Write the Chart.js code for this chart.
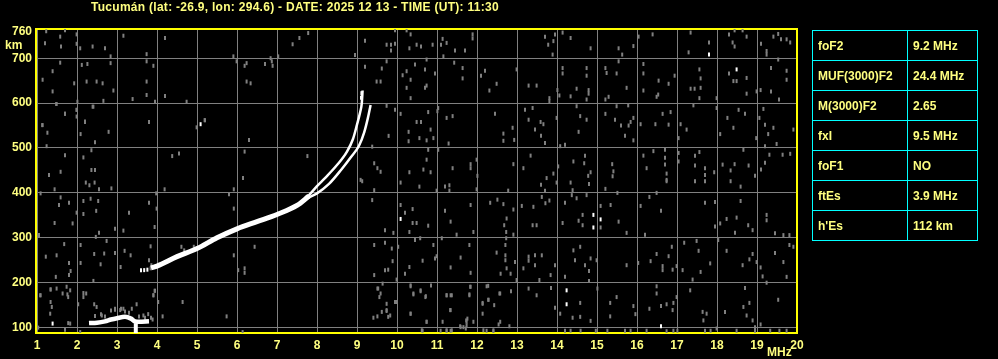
<!DOCTYPE html>
<html>
<head>
<meta charset="utf-8">
<title>Ionogram Tucumán</title>
<script src="https://cdn.jsdelivr.net/npm/chart.js@4.4.1/dist/chart.umd.min.js"></script>
<style>
  body { margin: 0; background: #000; }
  #wrap { position: relative; width: 998px; height: 359px; overflow: hidden; background: #000; }
  #chart-box { position: absolute; left: 0; top: 0; width: 998px; height: 359px; }
  .lbl { position: absolute; color: #ffff80; font: bold 11px "Liberation Sans", Arial, sans-serif; white-space: nowrap; }
  #title { left: 91px; top: 0px; font-size: 12px; letter-spacing: 0.28px; }
  #km { left: 5px; top: 38px; font-size: 12px; }
  #mhz { left: 767px; top: 345px; font-size: 12px; }
  #params { position: absolute; left: 812px; top: 30px; border-collapse: collapse; }
  #params td { border: 1px solid #00ffff; height: 29px; padding: 0 0 0 5px; color: #ffff80;
    font: bold 12px "Liberation Sans", Arial, sans-serif; white-space: nowrap; }
  #params td.k { width: 89px; }
  #params td.v { width: 64px; }
</style>
</head>
<body>
<div id="wrap">
  <div id="chart-box"><canvas id="iono-chart"></canvas></div>
  <div class="lbl" id="title">Tucumán (lat: -26.9, lon: 294.6) - DATE: 2025 12 13 - TIME (UT): 11:30</div>
  <div class="lbl" id="km">km</div>
  <div class="lbl" id="mhz">MHz</div>
  <table id="params"></table>
</div>
<script>
// Scaled parameters (right table)
const paramNames = ['foF2', 'MUF(3000)F2', 'M(3000)F2', 'fxI', 'foF1', 'ftEs', "h'Es"];
const paramValues = ['9.2 MHz', '24.4 MHz', '2.65', '9.5 MHz', 'NO', '3.9 MHz', '112 km'];

// Axes
const freqMin = 1, freqMax = 20;
const heightMin = 88, heightMax = 765;
const heightTicks = [100, 200, 300, 400, 500, 600, 700, 760];

// F-layer traces [MHz, km]
const oTraceLow = [[3.85,233],[4.0,237],[4.5,258],[5.0,276],[5.5,300],[6.0,320],[6.5,336],[7.0,352],[7.5,372],[7.8,393]];
const oTraceHigh = [[7.6,378],[7.8,395],[8.0,415],[8.2,433],[8.5,462],[8.75,492],[8.9,520],[9.0,552],[9.08,580],[9.12,600],[9.14,628]];
const xTrace = [[7.6,378],[7.8,390],[8.0,399],[8.3,420],[8.6,451],[8.85,480],[9.05,505],[9.18,535],[9.27,566],[9.34,596]];

// Sporadic E trace
const esTrace = [[2.3,110],[2.5,111],[2.7,114],[2.85,118],[3.0,121],[3.2,124],[3.35,120],[3.45,114],[3.55,113],[3.8,114]];
const esSpike = [[3.47,88],[3.47,110]];

// Bright echoes
const whiteEchoes = [[3.6,228],[3.68,228],[3.76,229],[17.80,708],[18.49,675],[10.09,342],[14.91,351],[15.09,341],[14.91,323],
  [14.24,183],[14.24,152],[16.60,103],[5.09,553],[1.39,109],[9.1,612],[9.11,622]];

// Background noise echoes
const noiseEchoes = [
  [9.95,762],[10.24,762],[10.34,753],[9.74,730],[9.85,730],[9.95,732],[9.85,717],[10.31,722],[10.49,730],[10.60,726],
  [10.89,730],[11.10,730],[11.24,734],[11.14,743],[11.45,717],[11.70,717],[11.89,753],[11.89,744],[11.16,704],[10.74,697],
  [9.74,693],[9.62,677],[10.45,686],[10.24,671],[10.14,662],[10.34,652],[10.24,634],[10.70,634],[10.74,639],[10.34,611],
  [10.95,666],[10.70,675],[11.43,690],[11.64,678],[11.64,655],[12.20,672],[12.10,661],[12.49,643],[12.31,628],[12.99,675],
  [13.29,639],[13.49,639],[13.70,748],[13.91,738],[13.78,730],[13.95,753],[14.14,757],[14.34,745],[13.89,708],[14.14,678],
  [14.14,666],[14.74,678],[14.74,661],[14.49,632],[14.79,629],[14.79,621],[14.01,629],[14.06,617],[13.81,611],[13.81,604],
  [14.34,615],[14.74,608],[14.84,722],[15.21,678],[15.54,722],[15.63,708],[15.54,693],[15.74,634],[15.29,614],[15.21,608],
  [15.24,667],[15.49,666],[15.91,727],[16.04,748],[16.39,753],[16.16,687],[16.16,666],[16.54,650],[16.79,643],[16.94,661],
  [16.16,628],[16.53,619],[16.49,614],[17.34,757],[17.80,735],[17.29,713],[17.56,675],[17.59,655],[17.59,634],[17.34,632],
  [17.44,632],[17.56,611],[17.99,611],[18.30,753],[18.44,762],[18.64,762],[18.74,748],[18.39,735],[18.44,726],[18.30,666],
  [18.41,649],[18.49,649],[18.74,656],[18.74,621],[18.99,626],[19.09,629],[19.24,716],[19.24,708],[19.41,748],[19.53,754],
  [19.60,742],[19.74,742],[19.83,735],[19.10,732],[19.35,678],[19.74,672],[19.74,652],[19.35,626],[19.55,608],[19.53,697],
  [9.74,594],[9.95,585],[10.09,576],[10.78,580],[11.03,589],[11.01,582],[11.24,567],[11.39,571],[10.49,558],[10.60,558],
  [10.84,541],[10.29,536],[9.79,527],[10.56,522],[10.74,517],[10.91,522],[10.29,515],[11.29,510],[12.45,576],[12.66,532],
  [12.89,545],[12.66,516],[12.93,518],[13.20,585],[13.39,589],[13.29,563],[13.59,558],[13.66,553],[13.45,541],[13.60,527],
  [13.70,511],[13.99,567],[14.08,504],[14.20,507],[14.49,593],[14.58,571],[14.74,563],[14.54,536],[15.21,576],[15.49,593],
  [15.78,595],[15.91,567],[15.45,563],[15.60,550],[15.79,550],[15.84,558],[15.70,527],[15.91,517],[16.09,553],[16.46,553],
  [16.79,552],[16.64,576],[16.84,580],[17.09,553],[17.24,541],[17.41,595],[17.04,522],[17.99,589],[18.08,531],[18.26,567],
  [18.41,545],[18.54,585],[18.70,576],[18.98,522],[19.06,567],[19.16,587],[19.20,552],[19.41,545],[19.28,531],[19.91,541],
  [19.49,509],[19.20,504],[10.78,496],[11.03,496],[10.74,474],[10.66,452],[10.31,446],[10.84,446],[11.39,455],[11.84,464],
  [11.84,455],[11.99,474],[12.01,438],[12.91,464],[13.16,455],[13.34,483],[13.74,433],[13.91,443],[14.03,459],[14.41,470],
  [14.70,483],[14.78,438],[14.68,466],[14.84,446],[15.38,464],[15.41,448],[15.39,437],[16.16,483],[16.24,455],[16.41,493],
  [16.70,496],[16.70,478],[16.70,463],[16.74,443],[16.74,429],[17.04,489],[17.04,470],[17.45,483],[17.56,491],[17.45,461],
  [17.70,455],[17.70,440],[17.93,446],[18.14,463],[18.34,450],[18.44,464],[18.66,496],[18.79,461],[18.95,438],[19.10,452],
  [19.20,467],[19.31,485],[19.64,485],[19.83,487],
  [10.09,423],[10.56,414],[11.20,414],[11.31,417],[11.31,405],[10.99,405],[11.99,408],[12.78,405],[13.60,418],[13.70,405],
  [13.99,423],[14.34,423],[14.39,406],[14.80,420],[15.21,409],[15.51,400],[16.49,400],[16.74,426],[17.45,426],[17.70,426],
  [18.34,426],[18.59,414],[10.09,373],[10.20,356],[10.39,364],[10.39,333],[10.49,333],[10.78,327],[10.31,313],[9.91,311],
  [9.70,317],[10.58,299],[11.20,360],[11.34,336],[11.49,307],[11.84,373],[11.91,313],[12.33,378],[12.51,385],[12.66,375],
  [12.91,363],[12.74,343],[12.68,328],[12.73,313],[12.73,299],[12.91,307],[13.12,371],[13.41,369],[13.39,328],[13.49,328],
  [13.62,391],[13.71,377],[13.81,383],[14.14,333],[14.20,378],[14.37,395],[14.49,388],[14.74,395],[14.64,351],[14.54,338],
  [14.64,328],[15.09,371],[15.34,373],[15.09,323],[15.54,336],[15.74,311],[16.09,371],[16.31,391],[16.60,360],[16.20,307],
  [17.70,378],[17.95,380],[18.59,382],[18.49,345],[18.24,342],[18.08,332],[17.95,325],[18.45,311],[18.78,328],[18.89,317],
  [19.24,351],[19.24,339],[19.45,310],[19.66,306],[19.81,306],
  [9.70,289],[9.87,276],[10.03,280],[9.89,248],[9.70,228],[9.78,229],[9.99,207],[10.20,220],[10.31,235],[10.45,295],
  [10.64,249],[10.91,284],[10.95,254],[10.99,259],[11.34,234],[11.59,256],[11.81,284],[11.84,222],[11.12,299],[12.49,267],
  [12.59,220],[12.71,284],[12.71,261],[12.71,250],[12.74,232],[12.84,220],[12.95,246],[12.99,206],[13.16,232],[13.29,258],
  [13.29,249],[13.45,261],[13.62,261],[13.45,239],[13.56,206],[13.84,217],[13.95,239],[14.20,213],[14.41,272],[14.45,250],
  [14.58,280],[14.70,239],[14.80,226],[14.84,254],[14.80,204],[14.99,250],[15.74,239],[16.03,244],[16.34,248],[16.49,264],
  [16.64,237],[16.64,228],[16.79,259],[16.87,280],[16.99,237],[16.89,229],[17.14,228],[17.18,289],[17.39,207],[17.49,293],
  [17.54,271],[17.59,224],[17.83,243],[18.03,295],[18.24,271],[18.64,239],[18.81,252],[18.89,264],[18.99,246],[19.09,234],
  [19.14,214],[19.45,266],[19.66,246],[19.74,213],[19.81,284],[19.91,280],[19.24,200],
  [10.34,192],[10.59,181],[10.71,168],[10.41,174],[9.98,157],[9.74,137],[9.78,124],[10.34,131],[10.74,113],[11.24,172],
  [11.34,172],[11.34,139],[11.58,103],[11.74,113],[11.76,120],[11.84,191],[11.81,174],[12.14,155],[12.24,192],[12.29,162],
  [12.43,150],[12.56,176],[12.54,107],[12.81,103],[12.85,181],[13.29,187],[13.49,172],[13.85,188],[13.95,144],[14.08,131],
  [14.39,122],[14.58,155],[14.58,124],[14.84,115],[15.01,187],[15.33,155],[15.49,168],[15.33,125],[15.91,148],[15.96,130],
  [16.31,142],[16.49,192],[16.49,176],[16.60,148],[16.74,152],[16.91,155],[16.89,139],[16.99,168],[17.33,183],[17.64,135],
  [17.74,131],[17.66,116],[18.20,135],[18.66,146],[18.81,155],[18.74,127],[18.89,116],[18.95,101],[19.09,107],[19.53,162],
  [18.70,188],
  [10.64,93],[11.09,93],[11.24,93],[11.34,93],[11.59,101],[11.72,98],[12.24,93],[12.41,92],[14.20,93],[14.34,93],
  [14.59,93],[14.97,93],[15.26,93],[15.70,93],[15.84,93],[16.24,93],[16.74,92],[16.91,93],[17.01,93],[17.70,93],
  [17.84,93],[17.99,98],[18.49,93],[18.95,93],[19.33,93],[19.56,93],[19.74,93],
  [1.49,598],[1.99,585],[2.41,592],[2.66,605],[1.99,570],[1.13,551],[1.26,534],[1.70,576],[2.20,558],[2.09,531],
  [2.79,536],[2.45,513],[1.24,504],[1.70,484],[2.16,479],[2.36,495],[1.30,440],[1.59,447],[2.36,451],[2.45,451],
  [2.22,423],[2.31,417],[2.44,423],[2.55,408],[2.86,410],[1.44,408],[1.09,399],[1.59,390],[1.55,373],[1.80,378],
  [2.16,382],[2.34,387],[2.53,382],[1.99,356],[2.16,353],[2.48,360],[1.44,333],[1.89,332],[2.55,311],[2.47,302],
  [1.05,306],[2.95,320],[2.74,293],[3.16,316],[3.30,356],[3.80,378],[3.80,558],[3.98,399],[4.19,408],[3.99,365],
  [3.94,324],[3.84,281],[3.80,250],[1.68,286],[2.09,284],[1.22,258],[1.49,261],[1.80,244],[2.09,244],[2.43,264],
  [2.59,241],[2.68,265],[2.95,266],[3.19,271],[3.34,261],[3.09,235],[1.80,217],[1.84,226],[1.47,213],[1.34,185],
  [1.09,172],[1.76,174],[2.16,177],[2.41,204],[3.91,172],[3.94,182],[4.38,482],[4.55,488],[4.99,546],[5.19,562],
  [5.92,408],[5.80,397],[5.92,365],[6.19,492],[6.30,518],[6.15,433],[4.61,280],[4.68,272],[4.92,280],[5.92,261],
  [6.03,228],[6.19,232],[6.19,222],[6.44,280],[7.76,482],[9.38,503],[9.43,466],[9.51,455],[9.59,447],[9.38,384],
  [9.43,406],[9.43,284],[9.43,217],[9.51,187],[9.59,176],[9.09,429],[9.13,426],[3.84,232],[3.86,239],
  [1.23,760],[1.58,748],[1.70,762],[1.99,753],[1.99,732],[1.20,733],[1.60,726],[2.08,722],[2.39,726],[2.70,722],
  [2.84,704],[2.84,689],[3.74,709],[3.74,693],[3.16,750],[4.20,745],[1.58,690],[1.39,671],[1.14,652],[2.12,685],
  [2.26,687],[2.24,648],[2.49,648],[2.64,644],[2.91,628],[1.39,626],[1.93,644],[2.01,603],[1.99,585],[1.70,576],
  [1.48,598],[1.14,551],[2.39,592],[2.20,559],[3.74,648],[3.74,618],[3.91,683],[4.20,616],[3.95,603],[3.39,609],
  [4.74,603],[5.20,562],[5.91,704],[5.99,693],[6.24,689],[6.19,683],[6.70,687],[6.87,693],[6.89,683],[7.03,704],
  [6.84,700],[7.39,731],[7.56,745],[7.78,756],[6.24,648],[6.34,644],[8.95,707],[9.20,739],[9.20,681],[9.49,648],[9.59,648],
  [1.08,172],[1.34,185],[1.49,187],[1.74,191],[1.83,183],[1.64,176],[1.78,168],[1.34,157],[1.37,146],[1.33,131],
  [1.78,110],[1.83,109],[2.03,152],[2.16,168],[2.23,176],[2.43,152],[2.49,146],[2.62,127],[2.95,142],[3.08,139],
  [3.16,142],[3.37,142],[3.49,152],[3.66,127],[3.78,130],[3.89,118],[3.91,172],[3.95,182],[4.03,157],[4.14,125],
  [4.64,157],[5.74,125],[6.14,90],[2.08,90],[1.70,95],[1.03,100],[9.53,187],[9.64,198],[9.56,168],[9.74,153],
  [9.62,135],[9.74,139],[9.83,127],[9.51,125],[9.41,122],[9.95,157],[10.34,194],[10.41,176],[10.59,183],[10.72,170],
  [10.85,194],[10.34,131],[10.74,113],[11.14,113],[11.24,172],[11.37,172],[11.33,139],[11.83,191],[11.81,172],[11.73,116],
  [11.74,105],[11.66,101],[11.91,113],[12.14,131],[12.14,153],[12.28,162],[12.28,193],[12.58,176],[12.58,113],[10.62,94],
  [11.24,94],[11.37,94],[12.16,94],[12.41,94],
  [2.45,126],[2.6,130],[2.7,125],[2.85,138],[2.95,140],[3.1,142],[3.2,136],[3.3,133],[3.55,125],[3.7,122],[3.85,122]
];

const toPoints = (pairs) => pairs.map(([f, h]) => ({ x: f, y: h }));

// Build parameter table
document.getElementById('params').innerHTML = paramNames
  .map((name, i) => `<tr><td class="k">${name}</td><td class="v">${paramValues[i]}</td></tr>`)
  .join('');

// Yellow frame round the plot area
const frame = {
  id: 'frame',
  beforeDatasetsDraw(chart) {
    const { ctx, chartArea: a } = chart;
    ctx.save();
    ctx.strokeStyle = '#ffff00';
    ctx.lineWidth = 2;
    ctx.strokeRect(a.left - 1, a.top, a.right - a.left + 1, a.bottom - a.top);
    ctx.restore();
  }
};

const GRAY = '#808080';
const TICK_FONT = { family: '"Liberation Sans", Arial, sans-serif', size: 12, weight: 'bold' };

const traceLine = (data, width) => ({
  data: toPoints(data),
  showLine: true,
  borderColor: '#ffffff',
  borderWidth: width,
  pointRadius: 0,
  cubicInterpolationMode: 'monotone',
  borderCapStyle: 'butt'
});

const echoPoints = (data, color, order) => ({
  data: toPoints(data),
  showLine: false,
  pointStyle: 'line',
  rotation: 90,
  pointRadius: 2,
  pointBorderWidth: 2,
  borderColor: color,
  backgroundColor: color,
  order: order
});

new Chart(document.getElementById('iono-chart'), {
  type: 'scatter',
  data: {
    datasets: [
      { ...traceLine(oTraceLow, 5), order: 0 },
      { ...traceLine(oTraceHigh, 2.5), order: 0 },
      { ...traceLine(xTrace, 2.5), order: 0 },
      { ...traceLine(esTrace, 4.5), order: 0 },
      { ...traceLine(esSpike, 4), order: 0 },
      echoPoints(whiteEchoes, '#ffffff', 1),
      echoPoints(noiseEchoes, GRAY, 2)
    ]
  },
  options: {
    responsive: true,
    maintainAspectRatio: false,
    animation: false,
    events: [],
    layout: { padding: { top: 29, right: 201, bottom: 0, left: 0 } },
    plugins: {
      legend: { display: false },
      tooltip: { enabled: false }
    },
    scales: {
      x: {
        type: 'linear',
        min: freqMin,
        max: freqMax,
        afterFit: (scale) => { scale.height = 26; },
        border: { display: false },
        grid: { color: GRAY, lineWidth: 1, drawTicks: false },
        ticks: { stepSize: 1, color: '#ffff80', font: TICK_FONT, padding: 5, maxRotation: 0, autoSkip: false }
      },
      y: {
        type: 'linear',
        min: heightMin,
        max: heightMax,
        afterFit: (scale) => { scale.width = 37; },
        afterBuildTicks: (axis) => { axis.ticks = heightTicks.map(v => ({ value: v })); },
        border: { display: false },
        grid: {
          color: (c) => (c.tick && c.tick.value === 760 ? 'rgba(0,0,0,0)' : GRAY),
          lineWidth: 1,
          drawTicks: false
        },
        ticks: { color: '#ffff80', font: TICK_FONT, padding: 5, autoSkip: false }
      }
    }
  },
  plugins: [frame]
});
</script>
</body>
</html>
